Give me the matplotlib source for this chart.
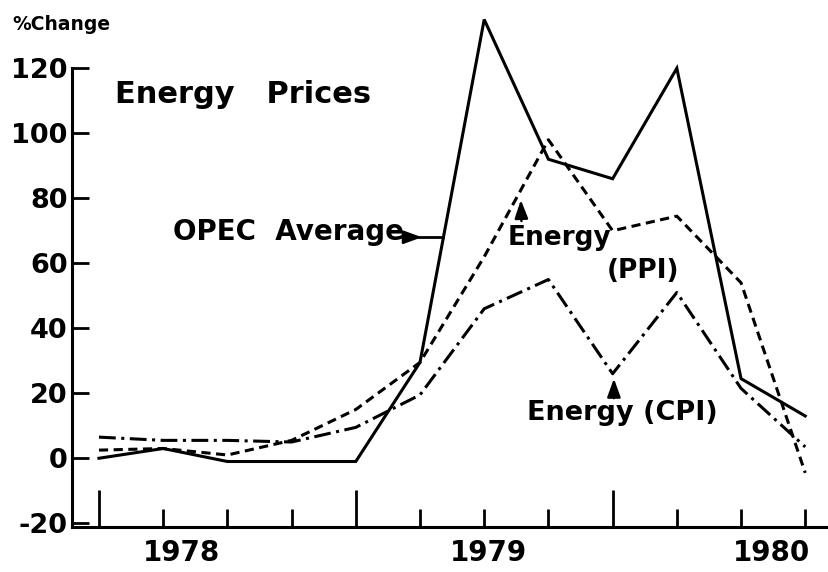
import matplotlib
matplotlib.use("Agg")
import matplotlib.pyplot as plt

# quarterly points, 12 of them, one per tick
quarters = list(range(12))
opec = [0, 3, -1, -1, -1, 29.5, 135, 92, 86, 120, 24.5, 13]
ppi = [2.5, 3, 1, 5.5, 15, 29.5, 62, 98, 70, 74.5, 54, -4.5]
cpi = [6.5, 5.5, 5.5, 5, 9.5, 19.5, 46, 55, 26, 51, 21.5, 3.5]

year_pos = [1.28, 6.07, 10.47]
year_labels = ["1978", "1979", "1980"]
y_ticks = [-20, 0, 20, 40, 60, 80, 100, 120]

plt.rcParams["font.family"] = ["DejaVu Sans"]
plt.rcParams["font.weight"] = "bold"

W, H = 829, 572
fig = plt.figure(figsize=(W / 100, H / 100), dpi=100)
ax = fig.add_axes([72 / W, 45.5 / H, 757 / W, 526.5 / H])

lw = 2.2
ax.plot(quarters, opec, color="black", lw=lw, solid_joinstyle="miter")
ax.plot(quarters, ppi, color="black", lw=lw, dashes=(3.0, 1.8))
ax.plot(quarters, cpi, color="black", lw=lw, dashes=(5.5, 1.8, 1.0, 1.8))

ax.set_xlim(-0.42, 11.37)
ax.set_ylim(-21, 141)

for s in ["top", "right"]:
    ax.spines[s].set_visible(False)
ax.spines["left"].set_linewidth(2.2)
ax.spines["bottom"].set_linewidth(2.2)
ax.spines["left"].set_bounds(-21, 120)

ax.set_yticks(y_ticks)
ax.set_yticklabels([str(v) for v in y_ticks], fontsize=19.5, fontweight="bold")
ax.tick_params(axis="y", direction="in", length=12, width=2, pad=3)

ax.set_xticks(quarters)
ax.set_xticklabels([])
ax.tick_params(axis="x", which="major", direction="in", length=13, width=2)
for i in [0, 4, 8]:
    ax.xaxis.get_major_ticks()[i].tick1line.set_markersize(27)
ax.set_xticks(year_pos, minor=True)
ax.set_xticklabels(year_labels, minor=True, fontsize=20, fontweight="bold")
ax.tick_params(axis="x", which="minor", length=0, pad=9)


def fpix(x, y):
    return x / W, 1 - y / H


fig.text(*fpix(12, 30), "%Change", fontsize=13.5, fontweight="bold", va="baseline")
fig.text(*fpix(115, 103), "Energy   Prices", fontsize=22, fontweight="bold", va="baseline")
fig.text(*fpix(173, 240), "OPEC  Average", fontsize=20, fontweight="bold", va="baseline")
fig.text(*fpix(508, 245), "Energy", fontsize=19, fontweight="bold", va="baseline")
fig.text(*fpix(607, 278), "(PPI)", fontsize=19, fontweight="bold", va="baseline")
fig.text(*fpix(527, 420), "Energy (CPI)", fontsize=19.5, fontweight="bold", va="baseline")

# label arrows
head = dict(arrowstyle="-|>,head_length=0.55,head_width=0.2", color="black",
            lw=1.8, mutation_scale=20, shrinkA=0, shrinkB=0)
ax.annotate("", xy=(5.03, 68), xytext=(4.8, 68), arrowprops=head)
ax.plot([4.98, 5.36], [68, 68], color="black", lw=2)
ax.annotate("", xy=(6.57, 79.5), xytext=(6.58, 73), arrowprops=head)
ax.annotate("", xy=(8.02, 24.5), xytext=(8.02, 18.5), arrowprops=head)

fig.savefig("out.png", dpi=100)
